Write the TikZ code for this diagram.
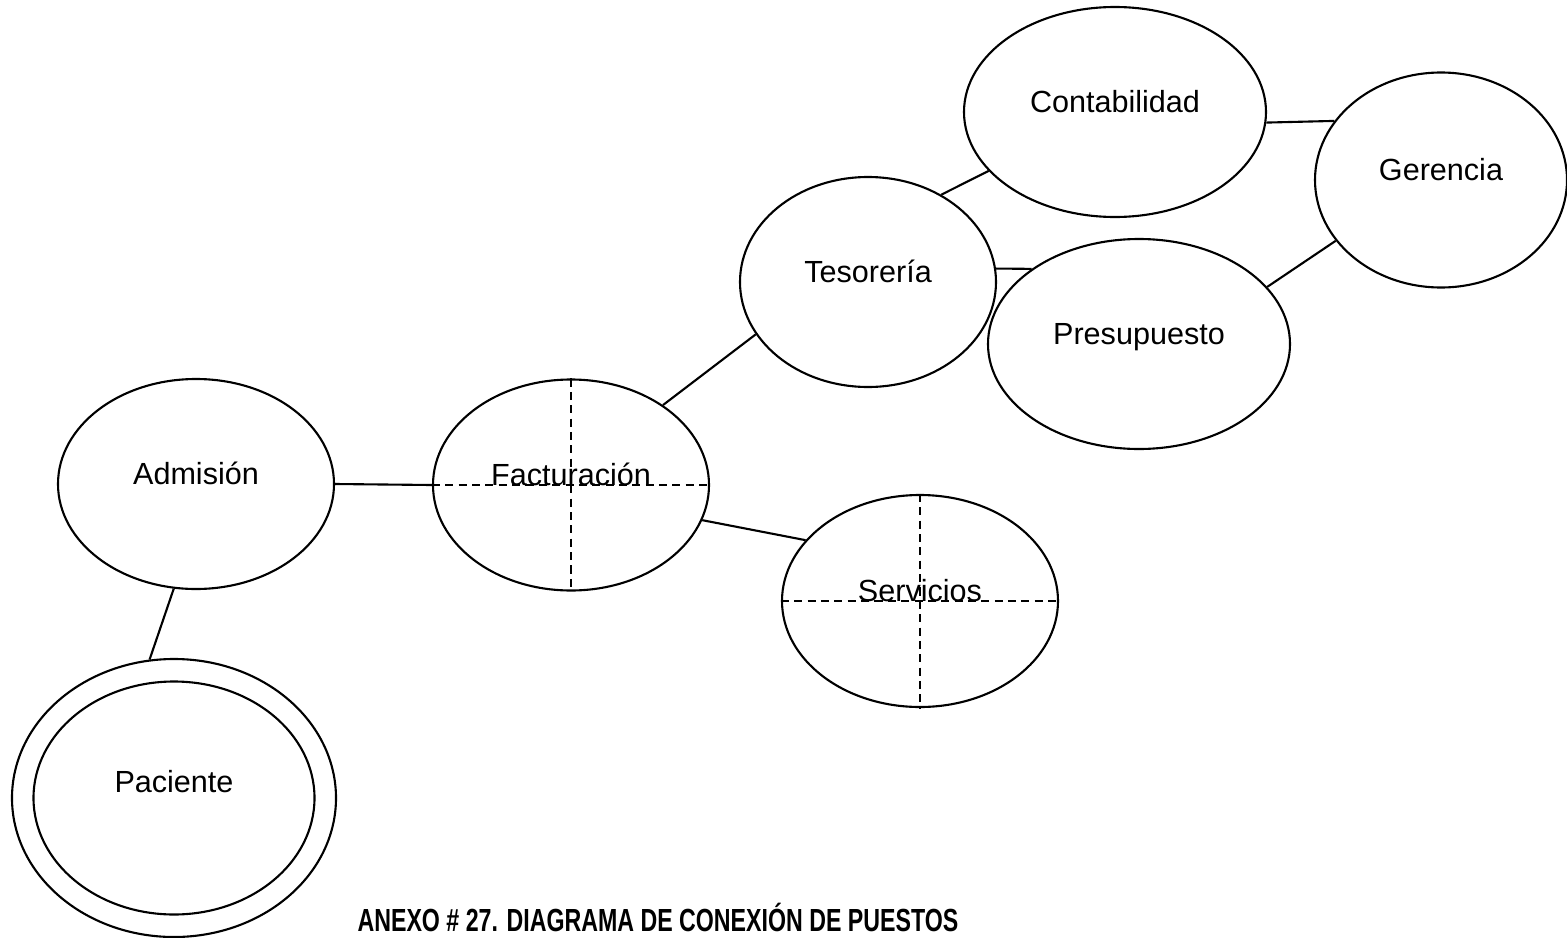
\documentclass[tikz,border=0pt]{standalone}
\usepackage{graphicx}
\usepackage{fontspec}
\setmainfont{Liberation Sans}
\usetikzlibrary{shapes.geometric}

\tikzset{
  puesto/.style={ellipse, draw, line width=0.6pt, inner sep=0pt},
  nombre/.style={anchor=base, inner sep=0pt, font=\fontsize{8.7}{10}\selectfont},
  enlace/.style={line width=0.6pt},
  division/.style={line width=0.6pt, dash pattern=on 2.3pt off 1.5pt},
}

\begin{document}
\begin{tikzpicture}
    \useasboundingbox (0,0) rectangle (15.67,9.37);

    % Puestos
    \node[puesto, minimum width=3.02cm, minimum height=2.10cm] (conta) at (11.15,8.25) {};
    \node[puesto, minimum width=2.52cm, minimum height=2.15cm] (geren) at (14.41,7.57) {};
    \node[puesto, minimum width=2.56cm, minimum height=2.10cm] (teso) at (8.68,6.55) {};
    \node[puesto, minimum width=3.02cm, minimum height=2.10cm] (presu) at (11.39,5.93) {};
    \node[puesto, minimum width=2.76cm, minimum height=2.10cm] (admi) at (1.96,4.53) {};
    \node[puesto, minimum width=2.76cm, minimum height=2.11cm] (factu) at (5.71,4.52) {};
    \node[puesto, minimum width=2.76cm, minimum height=2.12cm] (servi) at (9.20,3.36) {};

    % Paciente: doble elipse
    \node[puesto, minimum width=3.24cm, minimum height=2.78cm] (pac) at (1.74,1.39) {};
    \node[puesto, minimum width=2.81cm, minimum height=2.33cm] (pacin) at (1.74,1.39) {};

    % Divisiones punteadas
    \draw[division] (factu.north) -- (factu.south);
    \draw[division] (factu.west) -- (factu.east);
    \draw[division] (servi.north) -- (servi.south);
    \draw[division] (servi.west) -- (servi.east);

    % Conexiones
    \draw[enlace] (admi.east) -- (factu.west);
    \draw[enlace] (admi.258) -- (pac.100);
    \draw[enlace] (factu.41.5) -- (teso.205);
    \draw[enlace] (factu.345) -- (servi.152);
    \draw[enlace] (teso.50) -- (conta.205);
    \draw[enlace] (teso.6) -- (presu.145);
    \draw[enlace] (conta.356) -- (geren.151.5);
    \draw[enlace] (presu.24) -- (geren.210);

    % Nombres
    \node[nombre] (conta-t) at (conta.center) {Contabilidad};
    \node[nombre] (geren-t) at (geren.center) {Gerencia};
    \node[nombre] (teso-t) at (teso.center) {Tesorería};
    \node[nombre] (presu-t) at (presu.center) {Presupuesto};
    \node[nombre] (admi-t) at (admi.center) {Admisión};
    \node[nombre] (factu-t) at (factu.center) {Facturación};
    \node[nombre] (servi-t) at (servi.center) {Servicios};
    \node[nombre] (pac-t) at ([yshift=0.06cm]pac.center) {Paciente};

    % Titulo
    \node[anchor=base, inner sep=0pt, font=\bfseries\fontsize{9.1}{11}\selectfont] (titulo) at (6.58,0.06)
        {\scalebox{0.725}[1]{ANEXO \# 27. DIAGRAMA DE CONEXIÓN DE PUESTOS}};
\end{tikzpicture}
\end{document}
